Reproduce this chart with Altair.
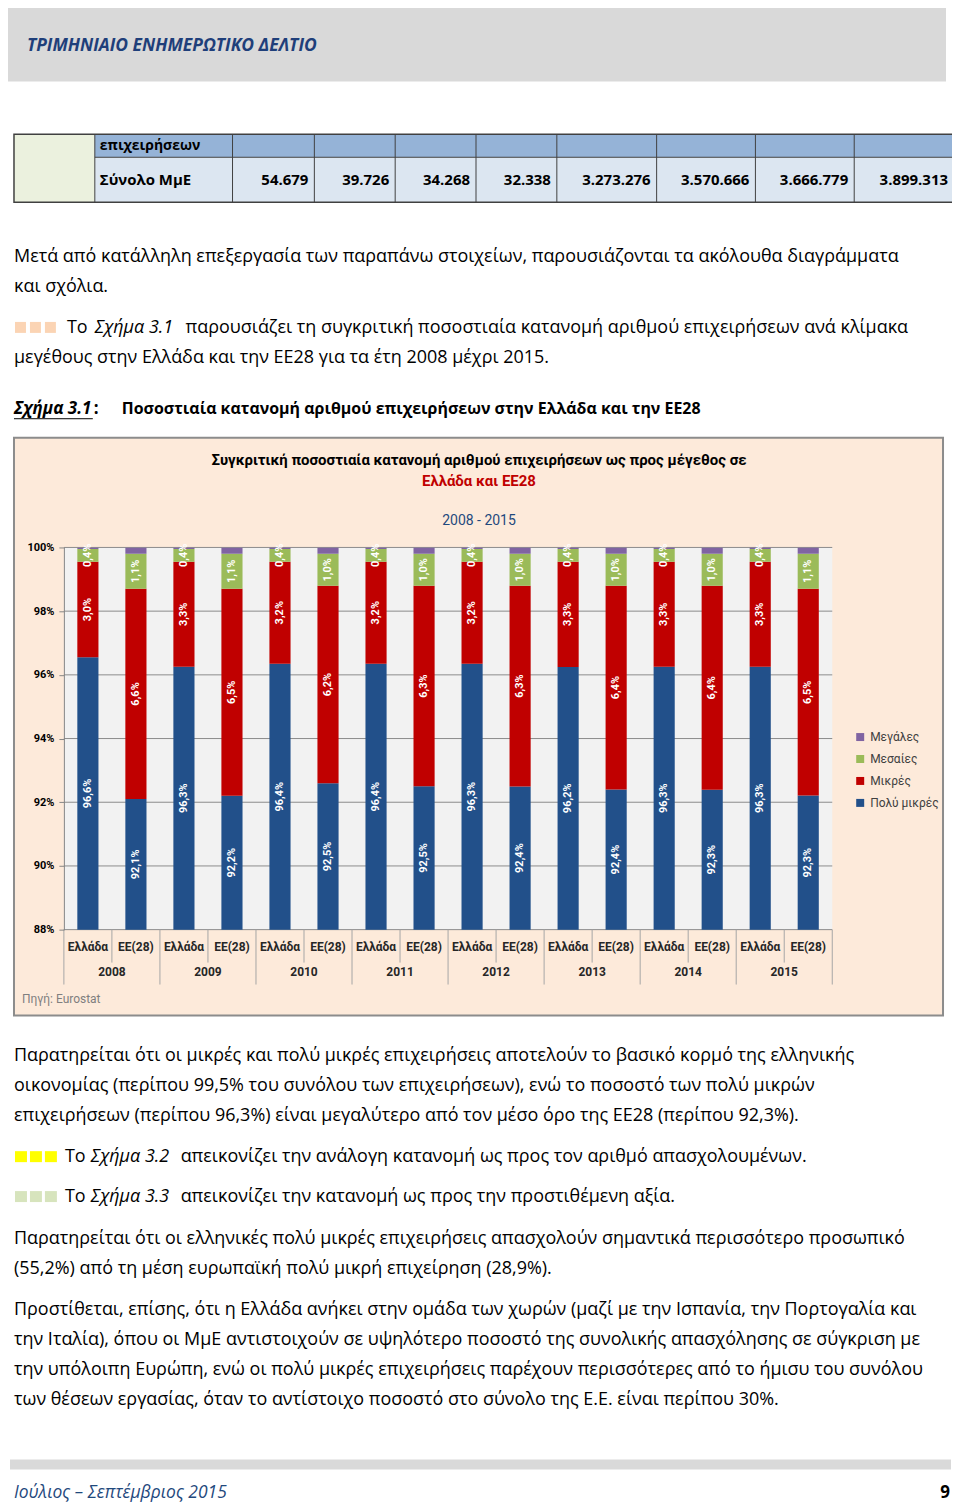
import altair as alt
import pandas as pd

# ---------------- data ----------------
years = ["2008", "2009", "2010", "2011", "2012", "2013", "2014", "2015"]
countries = ["Ελλάδα", "EE(28)"]
size_stack = ["Πολύ μικρές", "Μικρές", "Μεσαίες", "Μεγάλες"]
legend_order = ["Μεγάλες", "Μεσαίες", "Μικρές", "Πολύ μικρές"]
legend_colors = ["#8064A2", "#9BBB59", "#C00000", "#22508A"]

gr_very_small = [96.6, 96.3, 96.4, 96.4, 96.3, 96.2, 96.3, 96.3]
gr_small = [3.0, 3.3, 3.2, 3.2, 3.2, 3.3, 3.3, 3.3]
gr_medium = [0.4, 0.4, 0.4, 0.4, 0.4, 0.4, 0.4, 0.4]
gr_large = [0.05, 0.05, 0.05, 0.05, 0.05, 0.05, 0.05, 0.05]
eu_very_small = [92.1, 92.2, 92.5, 92.5, 92.4, 92.4, 92.3, 92.3]
eu_small = [6.6, 6.5, 6.2, 6.3, 6.3, 6.4, 6.4, 6.5]
eu_medium = [1.1, 1.1, 1.0, 1.0, 1.0, 1.0, 1.0, 1.1]
eu_large = [0.2, 0.2, 0.2, 0.2, 0.2, 0.2, 0.2, 0.2]

y_ticks = [88, 90, 92, 94, 96, 98, 100]

table_head = "επιχειρήσεων"
table_row = "Σύνολο ΜμΕ"
table_values = ["54.679", "39.726", "34.268", "32.338", "3.273.276", "3.570.666", "3.666.779", "3.899.313"]

header_text = "ΤΡΙΜΗΝΙΑΙΟ ΕΝΗΜΕΡΩΤΙΚΟ ΔΕΛΤΙΟ"
para1 = ["Μετά από κατάλληλη επεξεργασία των παραπάνω στοιχείων, παρουσιάζονται τα ακόλουθα διαγράμματα",
         "και σχόλια."]
fig31_line = ["Το", "Σχήμα 3.1", "παρουσιάζει τη συγκριτική ποσοστιαία κατανομή αριθμού επιχειρήσεων ανά κλίμακα"]
fig31_line2 = "μεγέθους στην Ελλάδα και την ΕΕ28 για τα έτη 2008 μέχρι 2015."
caption = ["Σχήμα 3.1", ":", "Ποσοστιαία κατανομή αριθμού επιχειρήσεων στην Ελλάδα και την ΕΕ28"]
chart_title1 = "Συγκριτική ποσοστιαία κατανομή αριθμού επιχειρήσεων ως προς μέγεθος σε"
chart_title2 = "Ελλάδα και ΕΕ28"
chart_sub = "2008 - 2015"
source = "Πηγή: Eurostat"
para2 = ["Παρατηρείται ότι οι μικρές και πολύ μικρές επιχειρήσεις αποτελούν το βασικό κορμό της ελληνικής",
         "οικονομίας (περίπου 99,5% του συνόλου των επιχειρήσεων), ενώ το ποσοστό των πολύ μικρών",
         "επιχειρήσεων (περίπου 96,3%) είναι μεγαλύτερο από τον μέσο όρο της ΕΕ28 (περίπου 92,3%)."]
fig32_line = ["Το", "Σχήμα 3.2", "απεικονίζει την ανάλογη κατανομή ως προς τον αριθμό απασχολουμένων."]
fig33_line = ["Το", "Σχήμα 3.3", "απεικονίζει την κατανομή ως προς την προστιθέμενη αξία."]
para3 = ["Παρατηρείται ότι οι ελληνικές πολύ μικρές επιχειρήσεις απασχολούν σημαντικά περισσότερο προσωπικό",
         "(55,2%) από τη μέση ευρωπαϊκή πολύ μικρή επιχείρηση (28,9%)."]
para4 = ["Προστίθεται, επίσης, ότι η Ελλάδα ανήκει στην ομάδα των χωρών (μαζί με την Ισπανία, την Πορτογαλία και",
         "την Ιταλία), όπου οι ΜμΕ αντιστοιχούν σε υψηλότερο ποσοστό της συνολικής απασχόλησης σε σύγκριση με",
         "την υπόλοιπη Ευρώπη, ενώ οι πολύ μικρές επιχειρήσεις παρέχουν περισσότερες από το ήμισυ του συνόλου",
         "των θέσεων εργασίας, όταν το αντίστοιχο ποσοστό στο σύνολο της Ε.Ε. είναι περίπου 30%."]
footer_left = "Ιούλιος – Σεπτέμβριος 2015"
footer_page = "9"

# ---------------- tables built from the arrays ----------------
rows = []
for i, yr in enumerate(years):
    series = {
        "Ελλάδα": [gr_very_small[i], gr_small[i], gr_medium[i], gr_large[i]],
        "EE(28)": [eu_very_small[i], eu_small[i], eu_medium[i], eu_large[i]],
    }
    for c in countries:
        vals = series[c]
        tot = sum(vals)
        cum = 0.0
        for s, v in zip(size_stack, vals):
            start = cum / tot * 100
            cum += v
            end = cum / tot * 100
            lo, hi = max(start, 88), min(end, 100)
            label = "" if s == "Μεγάλες" else f"{v:.1f}".replace(".", ",") + "%"
            rows.append(dict(year=yr, country=c, size=s, start=start, end=end,
                             mid=(lo + hi) / 2, label=label))
bars_df = pd.DataFrame(rows)
labels_df = bars_df[bars_df["label"] != ""]
xl_df = pd.DataFrame([dict(year=y, country=c) for y in years for c in countries])
yr_df = pd.DataFrame({"year": years})
grid_df = pd.DataFrame({"v": y_ticks})

# ---------------- layout ----------------
OX, OY = 64, 547          # page position of the plot area's top-left corner
W, H = 770, 383
BODY = "Open Sans"
BS = 18                   # body text size
CH = "Liberation Sans Narrow, Roboto, sans-serif"

xs = alt.Scale(paddingInner=0, paddingOuter=0)
xos = alt.Scale(paddingInner=0.56, paddingOuter=0.28)
ys = alt.Scale(domain=[88, 100], nice=False, zero=False)
AX = alt.Axis(values=y_ticks, labelExpr="datum.value + '%'", grid=False, title=None,
              zindex=1, domainColor="#868686", tickColor="#868686",
              tickSize=5, labelFontWeight="bold", labelFontSize=11,
              labelColor="#000000", labelFont=CH, labelPadding=5)

X = alt.X("year:N", sort=years, scale=xs, axis=None)
XO = alt.XOffset("country:N", sort=countries, scale=xos)


def one(d=None):
    return alt.Chart(alt.Data(values=[d or {"t": ""}]))


def T(s, x, y, size=BS, weight="normal", style="normal", color="#000000",
      align="left", font=BODY):
    return one({"t": s}).mark_text(
        align=align, baseline="middle", fontSize=size, fontWeight=weight,
        fontStyle=style, color=color, font=font
    ).encode(x=alt.value(x - OX), y=alt.value(y - OY), text="t:N")


def R(x1, y1, x2, y2, fill, stroke=None, sw=0):
    kw = dict(fill=fill, strokeWidth=sw)
    if stroke:
        kw["stroke"] = stroke
    return one().mark_rect(**kw).encode(
        x=alt.value(x1 - OX), x2=alt.value(x2 - OX),
        y=alt.value(y1 - OY), y2=alt.value(y2 - OY))


def L(x1, y1, x2, y2, color="#404040", sw=1):
    return one().mark_rule(color=color, strokeWidth=sw).encode(
        x=alt.value(x1 - OX), x2=alt.value(x2 - OX),
        y=alt.value(y1 - OY), y2=alt.value(y2 - OY))


layers = []
# header band
layers.append(R(3, 3, 948, 80, "#D9D9D9"))
layers.append(T(header_text, 27, 44, size=17.5, weight="bold", style="italic", color="#1F3F7A"))

# table
col_edges = [95, 233, 315, 396, 477, 558, 658, 757, 856, 956]
layers.append(R(14, 133, 95, 201, "#EBF1DE"))
layers.append(R(95, 133, 956, 156, "#95B3D7"))
layers.append(R(95, 156, 956, 201, "#DCE6F1"))
layers.append(R(14, 133, 956, 201, "transparent", stroke="#404040", sw=1.5))
for e in col_edges[:-1]:
    layers.append(L(e, 133, e, 201))
layers.append(L(95, 156, 956, 156))
layers.append(T(table_head, 100, 145, size=14, weight="bold"))
layers.append(T(table_row, 100, 179, size=15, weight="bold"))
for v, e in zip(table_values, col_edges[2:]):
    layers.append(T(v, e - 6, 179, size=15, weight="bold", align="right"))

# paragraph 1
layers.append(T(para1[0], 14, 256))
layers.append(T(para1[1], 14, 286))
for x0 in (15, 30, 45):
    layers.append(R(x0, 321, x0 + 11, 332, "#FBD4B4"))
layers.append(T(fig31_line[0], 67, 327))
layers.append(T(fig31_line[1], 95, 327, style="italic"))
layers.append(T(fig31_line[2], 186, 327))
layers.append(T(fig31_line2, 14, 357))
layers.append(T(caption[0], 14, 408, size=17, weight="bold", style="italic"))
layers.append(L(14, 418, 93, 418, color="#000000", sw=1))
layers.append(T(caption[1], 94, 408, size=17, weight="bold"))
layers.append(T(caption[2], 122, 408, size=16, weight="bold"))

# chart box
layers.append(R(14, 437, 945, 1016, "#FDEADA", stroke="#8C8C8C", sw=2))
layers.append(R(OX, OY, OX + W, OY + H, "#F2F2F2"))
layers.append(T(chart_title1, 480, 459, size=15, weight="bold", align="center", font=CH))
layers.append(T(chart_title2, 480, 480, size=15, weight="bold", align="center", font=CH, color="#C00000"))
layers.append(T(chart_sub, 480, 521, size=14, align="center", font=CH, color="#1F497D"))
layers.append(T(source, 22, 1000, size=12, font=CH, color="#7F7F7F"))

# gridlines (carry the y axis)
layers.append(alt.Chart(grid_df).mark_rule(color="#8C8C8C", strokeWidth=1).encode(
    y=alt.Y("v:Q", scale=ys, axis=AX), x=alt.value(0), x2=alt.value(W)))

# bars
bars = alt.Chart(bars_df).mark_bar(clip=True).encode(
    x=X, xOffset=XO,
    y=alt.Y("start:Q", scale=ys, axis=AX),
    y2="end:Q",
    color=alt.Color("size:N", scale=alt.Scale(domain=legend_order, range=legend_colors),
                    legend=alt.Legend(title=None, orient="none", legendX=792, legendY=184,
                                      symbolType="square", symbolSize=64, symbolStrokeWidth=0,
                                      labelFontSize=12, labelColor="#404040", labelFont=CH,
                                      rowPadding=10, labelOffset=4)),
    order=alt.Order("start:Q"),
)
layers.append(bars)

# bar value labels
layers.append(alt.Chart(labels_df).mark_text(
    angle=270, color="white", fontWeight="bold", fontSize=11, font=CH,
    align="center", baseline="middle").encode(
    x=X, xOffset=XO, y=alt.Y("mid:Q", scale=ys, axis=AX), text="label:N"))

# category axis (two levels)
layers.append(alt.Chart(yr_df).mark_rule(color="#A6A6A6").encode(
    x=alt.X("year:N", sort=years, scale=xs, axis=None, bandPosition=0),
    y=alt.value(H), y2=alt.value(H + 55)))
layers.append(alt.Chart(yr_df).mark_rule(color="#A6A6A6").encode(
    x=alt.X("year:N", sort=years, scale=xs, axis=None, bandPosition=0.5),
    y=alt.value(H), y2=alt.value(H + 33)))
layers.append(L(OX + W, OY + H, OX + W, OY + H + 55, color="#A6A6A6"))
layers.append(alt.Chart(xl_df).mark_text(
    fontWeight="bold", fontSize=12, font=CH, color="#262626",
    align="center", baseline="middle").encode(
    x=X, xOffset=XO, y=alt.value(400), text="country:N"))
layers.append(alt.Chart(yr_df).mark_text(
    fontWeight="bold", fontSize=12, font=CH, color="#262626",
    align="center", baseline="middle").encode(
    x=X, y=alt.value(425), text="year:N"))

# bottom paragraphs
for i, s in enumerate(para2):
    layers.append(T(s, 14, 1057 + 30 * i))
for yy, col, line in ((1158, "#FFFF00", fig32_line), (1198, "#D7E4BD", fig33_line)):
    for x0 in (15, 30, 45):
        layers.append(R(x0, yy - 6, x0 + 12, yy + 5, col))
    layers.append(T(line[0], 65, yy))
    layers.append(T(line[1], 91, yy, style="italic"))
    layers.append(T(line[2], 181, yy))
for i, s in enumerate(para3):
    layers.append(T(s, 14, 1240 + 30 * i))
for i, s in enumerate(para4):
    layers.append(T(s, 14, 1311 + 30 * i))

# footer
layers.append(R(10, 1461, 953, 1471, "#D9D9D9"))
layers.append(T(footer_left, 14, 1495, size=17.5, style="italic", color="#1F497D"))
layers.append(T(footer_page, 952, 1495, size=17, weight="bold", align="right"))

chart = alt.layer(*layers).properties(
    width=W, height=H,
    autosize=alt.AutoSizeParams(type="none"),
    padding={"left": OX - 8, "top": OY - 8, "right": 120, "bottom": 1509 - OY - H},
    background="white",
).configure_view(strokeWidth=0)

chart.save("out.html", embed_options={"renderer": "svg", "actions": False})
